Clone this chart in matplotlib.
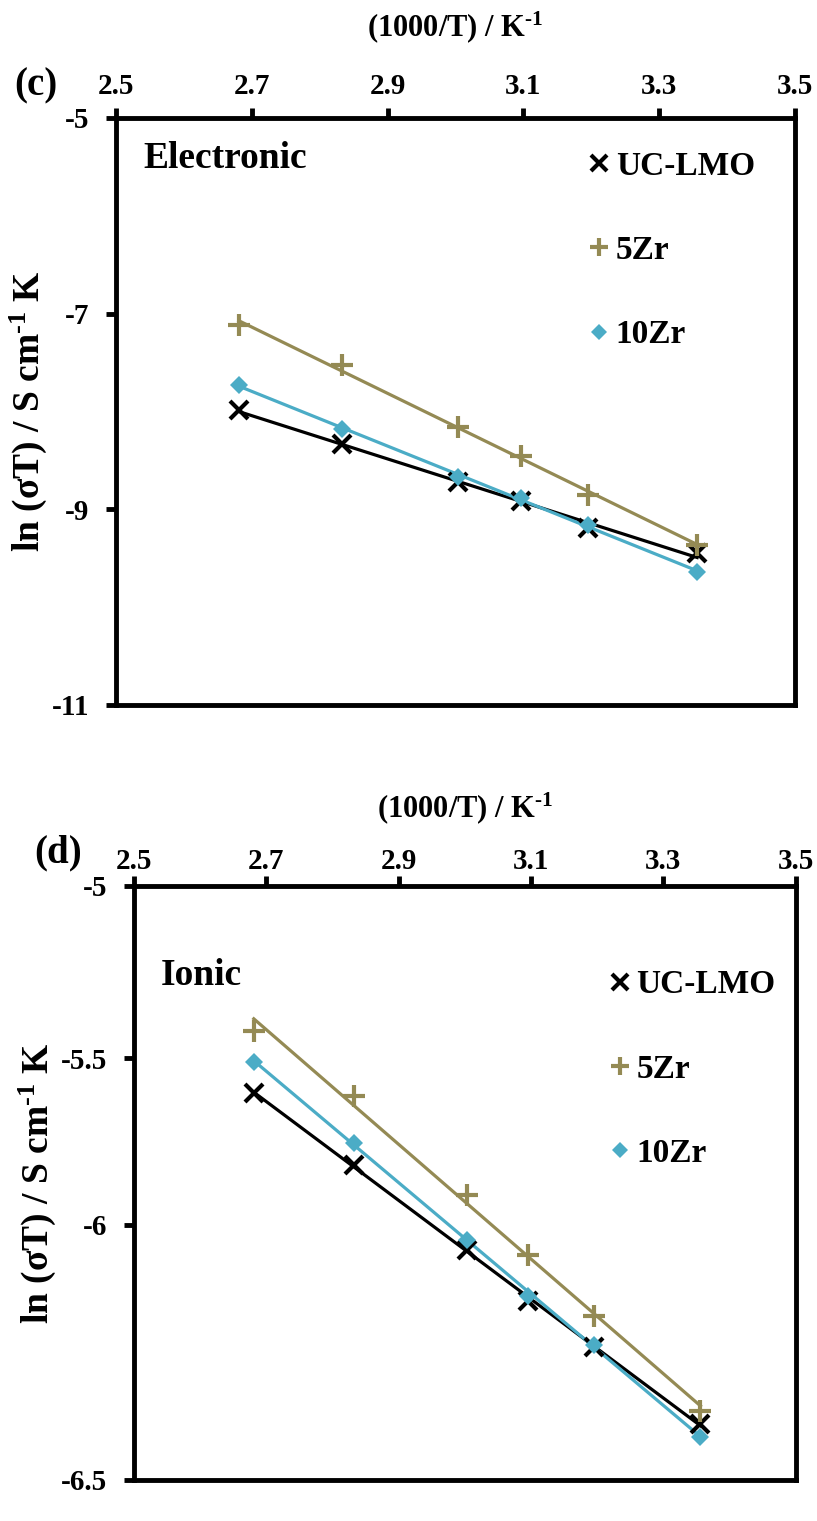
import numpy as np
import matplotlib
matplotlib.use("Agg")
import matplotlib.pyplot as plt

plt.rcParams["font.family"] = "Liberation Serif"
plt.rcParams["font.weight"] = "bold"
plt.rcParams["mathtext.fontset"] = "custom"
plt.rcParams["mathtext.rm"] = "Liberation Serif:bold"
plt.rcParams["mathtext.it"] = "Liberation Serif:bold"
plt.rcParams["mathtext.bf"] = "Liberation Serif:bold"

# x = 1000/T
inv_T = [2.681, 2.833, 3.003, 3.096, 3.195, 3.356]

# panel (c) electronic
elec_uc = [-7.99, -8.33, -8.72, -8.92, -9.19, -9.45]
elec_5zr = [-7.12, -7.53, -8.16, -8.46, -8.85, -9.36]
elec_10zr = [-7.73, -8.18, -8.67, -8.88, -9.16, -9.64]

# panel (d) ionic
ion_uc = [-5.605, -5.82, -6.05, -6.15, -6.24, -6.39]
ion_5zr = [-5.42, -5.615, -5.91, -6.06, -6.18, -6.365]
ion_10zr = [-5.51, -5.755, -6.03, -6.14, -6.235, -6.415]

series_names = ["UC-LMO", "5Zr", "10Zr"]
colors = ["black", "#948A54", "#4BACC6"]
markers = ["x", "+", "D"]
msizes = [13, 16, 9]

xticks = [2.5, 2.7, 2.9, 3.1, 3.3, 3.5]
elec_yticks = [-11, -9, -7, -5]
ion_yticks = [-6.5, -6, -5.5, -5]
# the ionic axis of the source figure is not evenly spaced
ion_tick_frac = [0.0, 0.43, 0.71, 1.0]

xlabel = r"(1000/T) / K$^{\text{-1}}$"
ylabel = r"ln ($\mathbf{\sigma}$T) / S cm$^{\text{-1}}$ K"


def draw_panel(ax, ys, yticks, tag, title, title_y, leg_anchor, xpad, xlabpad):
    xx = np.linspace(min(inv_T), max(inv_T), 80)
    fwd = ax.yaxis.get_transform().transform_non_affine
    inv = ax.yaxis.get_transform().inverted().transform_non_affine
    for y, c, m, ms, name in zip(ys, colors, markers, msizes, series_names):
        # linear trendline, straight on the drawn axis
        k, b = np.polyfit(inv_T, fwd(np.array(y)), 1)
        ax.plot(xx, inv(k * xx + b), color=c, lw=2.3, zorder=2)
        ax.plot(inv_T, y, linestyle="none", marker=m, ms=ms, mew=3 if m != "D" else 0,
                color=c, label=name, zorder=3)
    ax.set_xlim(2.5, 3.5)
    ax.set_ylim(yticks[0], yticks[-1])
    ax.set_xticks(xticks)
    ax.set_xticklabels([f"{t:g}" for t in xticks])
    ax.set_yticks(yticks)
    ax.set_yticklabels([f"{t:g}" for t in yticks])
    ax.xaxis.tick_top()
    ax.xaxis.set_label_position("top")
    ax.tick_params(axis="both", direction="out", length=7, width=3.5, labelsize=21)
    ax.tick_params(axis="x", pad=xpad)
    ax.tick_params(axis="y", right=False, pad=12)
    for s in ax.spines.values():
        s.set_linewidth(3.5)
    ax.set_xlabel(xlabel, fontsize=22, fontweight="bold", labelpad=xlabpad)
    ax.set_ylabel(ylabel, fontsize=27, fontweight="bold", labelpad=2)
    ax.text(0.04, title_y, title, transform=ax.transAxes, fontsize=27, fontweight="bold",
            va="center", ha="left")
    ax.text(-0.15, 1.055, tag, transform=ax.transAxes, fontsize=28, fontweight="bold",
            va="center", ha="left")
    ax.legend(loc="upper right", bbox_to_anchor=leg_anchor, frameon=False,
              fontsize=24, handlelength=0.6, handletextpad=0.2, labelspacing=1.6,
              markerscale=0.85)


fig = plt.figure(figsize=(8.17, 15.21), dpi=100)
ax1 = fig.add_axes([0.142, 0.5365, 0.831, 0.386])
ax2 = fig.add_axes([0.164, 0.027, 0.810, 0.3905])

ax2.set_yscale("function", functions=(
    lambda v: np.interp(v, ion_yticks, ion_tick_frac),
    lambda f: np.interp(f, ion_tick_frac, ion_yticks)))

draw_panel(ax1, [elec_uc, elec_5zr, elec_10zr], elec_yticks, "(c)", "Electronic",
           0.93, (0.985, 0.995), 6, 26)
draw_panel(ax2, [ion_uc, ion_5zr, ion_10zr], ion_yticks, "(d)", "Ionic",
           0.85, (1.015, 0.91), 1, 22)

fig.savefig("out.png", dpi=100)
